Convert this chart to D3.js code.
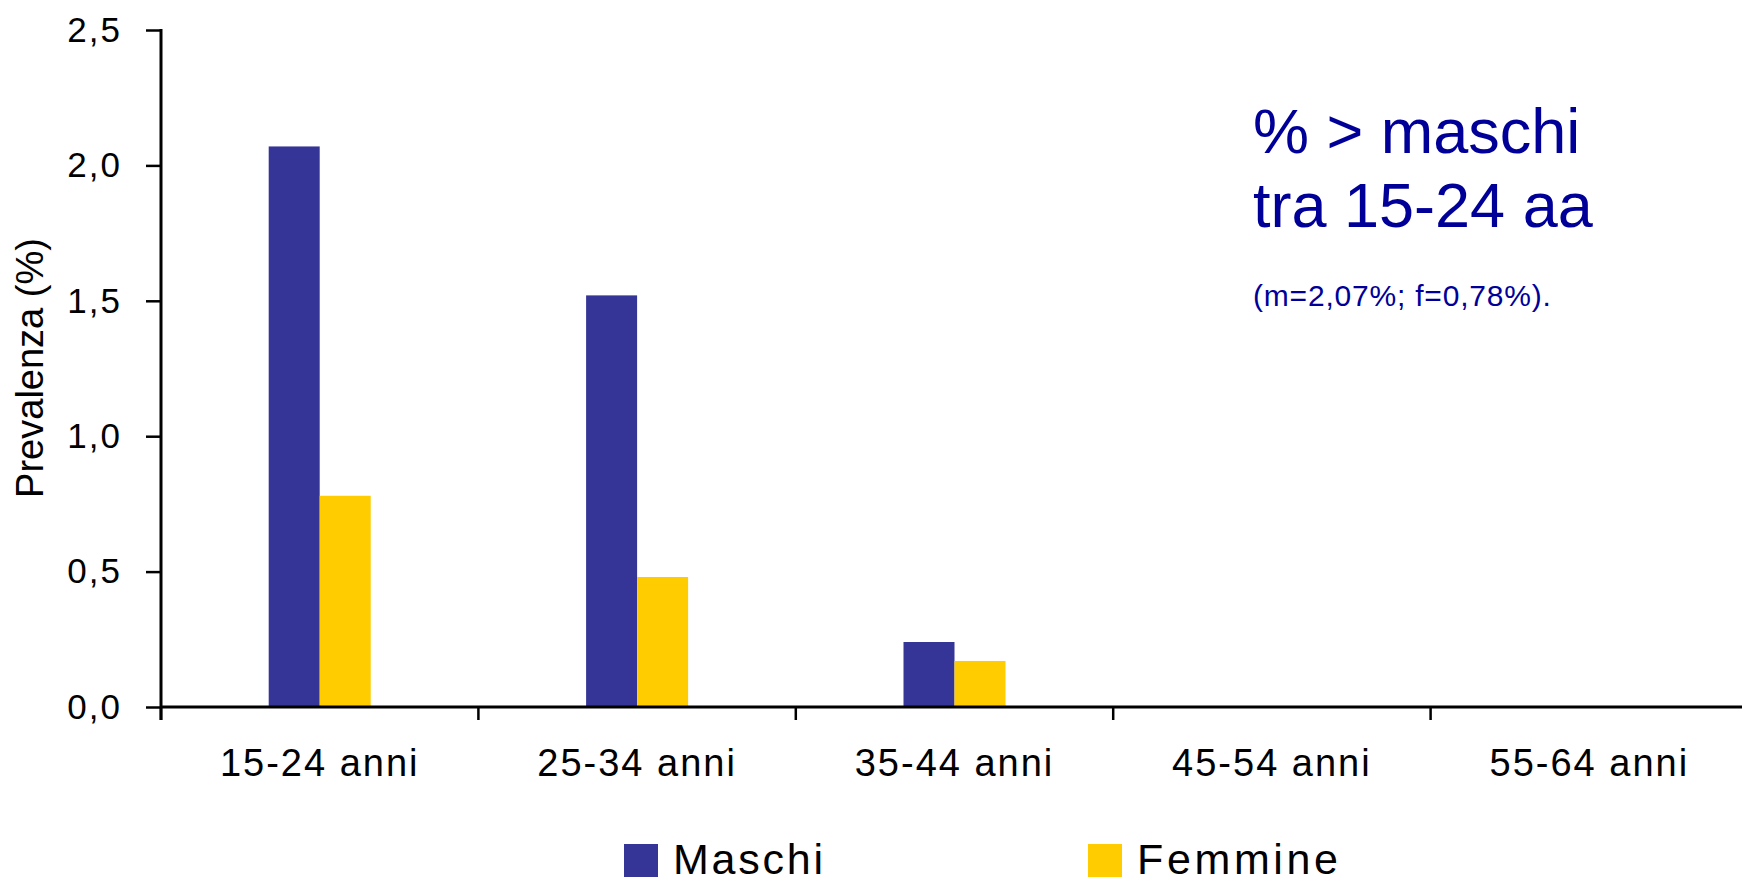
<!DOCTYPE html>
<html>
<head>
<meta charset="utf-8">
<script src="https://d3js.org/d3.v7.min.js"></script>
<style>
  body { margin: 0; background: #fff; }
  text { font-family: "Liberation Sans", Arial, sans-serif; }
</style>
</head>
<body>
<svg id="chart" width="1742" height="877"></svg>
<script>
// data
var categories = ["15-24 anni", "25-34 anni", "35-44 anni", "45-54 anni", "55-64 anni"];
var series = ["Maschi", "Femmine"];
var maschi = [2.07, 1.52, 0.24, null, null];
var femmine = [0.78, 0.48, 0.17, null, null];
var yTicks = [0, 0.5, 1.0, 1.5, 2.0, 2.5];
var yTickLabels = ["0,0", "0,5", "1,0", "1,5", "2,0", "2,5"];
var colors = ["#353597", "#ffcc00"];

var svg = d3.select("#chart");

// plot area
var plotLeft = 161, plotRight = 1748, plotTop = 30, plotBottom = 707;

var x = d3.scaleBand()
    .domain(categories)
    .range([plotLeft, plotRight])
    .padding(0);

var barW = 51;
var xSub = d3.scaleBand()
    .domain(series)
    .range([x.bandwidth() / 2 - barW, x.bandwidth() / 2 + barW]);

var y = d3.scaleLinear()
    .domain([0, 2.5])
    .range([plotBottom, plotTop]);

// bars
var rows = categories.map(function(c, i) {
    return { cat: c, values: [maschi[i], femmine[i]] };
});

var groups = svg.selectAll(".grp")
    .data(rows)
    .enter().append("g")
    .attr("class", "grp")
    .attr("transform", function(d) { return "translate(" + x(d.cat) + ",0)"; });

groups.selectAll("rect")
    .data(function(d) {
        return series.map(function(s, j) { return { key: s, value: d.values[j], j: j }; })
            .filter(function(e) { return e.value != null; });
    })
    .enter().append("rect")
    .attr("x", function(d) { return xSub(d.key); })
    .attr("width", xSub.bandwidth())
    .attr("y", function(d) { return y(d.value); })
    .attr("height", function(d) { return plotBottom - y(d.value); })
    .attr("fill", function(d) { return colors[d.j]; });

// y axis
var yAxis = svg.append("g")
    .attr("transform", "translate(" + plotLeft + ",0)")
    .call(d3.axisLeft(y)
        .tickValues(yTicks)
        .tickFormat(function(d, i) { return yTickLabels[i]; })
        .tickSize(15)
        .tickPadding(24));
yAxis.select(".domain").attr("d", "M0," + (plotTop - 1) + "V" + (plotBottom + 13)).attr("stroke-width", 3);
yAxis.selectAll(".tick line").attr("stroke-width", 2.5);
yAxis.selectAll(".tick text")
    .attr("font-size", 35)
    .attr("letter-spacing", 2)
    .attr("fill", "#000")
    .attr("font-family", "Liberation Sans, Arial, sans-serif");

// x axis
var xAxis = svg.append("g")
    .attr("transform", "translate(0," + plotBottom + ")");
xAxis.append("line")
    .attr("x1", plotLeft).attr("x2", 1742)
    .attr("stroke", "#000").attr("stroke-width", 3);
xAxis.selectAll(".xtick")
    .data(categories)
    .enter().append("line")
    .attr("class", "xtick")
    .attr("x1", function(d) { return x(d); })
    .attr("x2", function(d) { return x(d); })
    .attr("y1", 0).attr("y2", 13)
    .attr("stroke", "#000").attr("stroke-width", 2.5);
xAxis.selectAll(".xlab")
    .data(categories)
    .enter().append("text")
    .attr("class", "xlab")
    .attr("x", function(d) { return x(d) + x.bandwidth() / 2; })
    .attr("y", 69)
    .attr("text-anchor", "middle")
    .attr("font-size", 38)
    .attr("letter-spacing", 2)
    .text(function(d) { return d; });

// y label
svg.append("text")
    .attr("transform", "translate(43,368) rotate(-90)")
    .attr("text-anchor", "middle")
    .attr("font-size", 38)
    .text("Prevalenza (%)");

// annotation
var note = svg.append("g").attr("fill", "#000099");
note.append("text")
    .attr("x", 1253).attr("y", 153)
    .attr("font-size", 63)
    .text("% > maschi");
note.append("text")
    .attr("x", 1253).attr("y", 227)
    .attr("font-size", 63)
    .text("tra 15-24 aa");
note.append("text")
    .attr("x", 1253).attr("y", 306)
    .attr("font-size", 30)
    .attr("letter-spacing", 0.8)
    .text("(m=2,07%; f=0,78%).");

// legend
var legendX = [624, 1088];
var legendW = [150, 201];
var legend = svg.selectAll(".leg")
    .data(series)
    .enter().append("g")
    .attr("class", "leg")
    .attr("transform", function(d, i) { return "translate(" + legendX[i] + ",844)"; });
legend.append("rect")
    .attr("width", 34).attr("height", 34)
    .attr("fill", function(d, i) { return colors[i]; });
legend.append("text")
    .attr("x", 49).attr("y", 30)
    .attr("font-size", 43)
    .attr("textLength", function(d, i) { return legendW[i]; })
    .attr("lengthAdjust", "spacing")
    .text(function(d) { return d; });
</script>
</body>
</html>
